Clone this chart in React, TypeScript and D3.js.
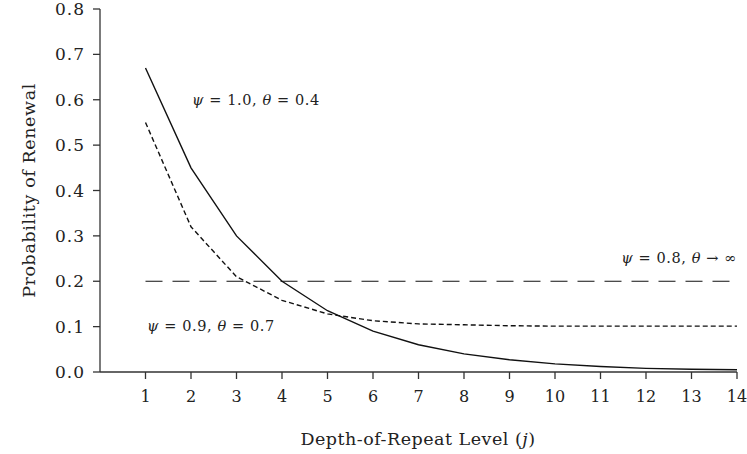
import React from "react";
import * as d3 from "d3";

const levels = [1, 2, 3, 4, 5, 6, 7, 8, 9, 10, 11, 12, 13, 14];
const seriesA = [0.67, 0.45, 0.30, 0.20, 0.135, 0.09, 0.06, 0.04, 0.027, 0.018, 0.012, 0.008, 0.006, 0.005];
const seriesB = [0.55, 0.32, 0.21, 0.158, 0.128, 0.113, 0.106, 0.104, 0.102, 0.101, 0.101, 0.101, 0.101, 0.101];
const constLevel = 0.2;
const yTicks = [0, 0.1, 0.2, 0.3, 0.4, 0.5, 0.6, 0.7, 0.8];

const W = 747, H = 454;
const FONT = "'DejaVu Serif', serif";

export default function App() {
  const x = d3.scaleLinear().domain([0, 14]).range([100, 737]);
  const y = d3.scaleLinear().domain([0, 0.8]).range([372, 9]);
  const line = d3.line<number>().x((_, i) => x(levels[i])).y((d) => y(d));
  const constLine = [x(1), x(14)];
  const axisColor = "#333";
  const stroke = "#111";

  const label = (psi: string, rest: React.ReactNode, props: any) => (
    <text {...props} fontFamily={FONT} fontSize={14.5} fill="#222" letterSpacing={0.6}>
      <tspan fontStyle="italic">ψ</tspan>
      <tspan>{` = ${psi},  `}</tspan>
      <tspan fontStyle="italic">θ</tspan>
      {rest}
    </text>
  );

  return (
    <svg width={W} height={H} style={{ position: "absolute", left: 0, top: 0, background: "#fff" }}>
      {/* axes */}
      <line x1={100} x2={100} y1={y(0.8)} y2={y(0)} stroke={axisColor} strokeWidth={1.3} />
      <line x1={100} x2={x(14)} y1={y(0)} y2={y(0)} stroke={axisColor} strokeWidth={1.3} />
      {yTicks.map((t) => (
        <g key={t}>
          <line x1={93} x2={100} y1={y(t)} y2={y(t)} stroke={axisColor} strokeWidth={1.3} />
          <text x={85} y={y(t)} dy="0.36em" textAnchor="end" fontFamily={FONT} fontSize={17} letterSpacing={1} fill="#222">
            {t.toFixed(1)}
          </text>
        </g>
      ))}
      {levels.map((t) => (
        <g key={t}>
          <line x1={x(t)} x2={x(t)} y1={y(0)} y2={y(0) + 7} stroke={axisColor} strokeWidth={1.3} />
          <text x={x(t)} y={402} textAnchor="middle" fontFamily={FONT} fontSize={16} fill="#222">
            {t}
          </text>
        </g>
      ))}
      <text x={418} y={445} textAnchor="middle" fontFamily={FONT} fontSize={17.5} fill="#222" letterSpacing={0.5}>
        Depth-of-Repeat Level (<tspan fontStyle="italic">j</tspan>)
      </text>
      <text transform={`translate(35,${(y(0) + y(0.8)) / 2}) rotate(-90)`} textAnchor="middle" fontFamily={FONT} fontSize={17.5} fill="#222" letterSpacing={0.6}>
        Probability of Renewal
      </text>

      {/* series */}
      <path d={line(seriesA) || ""} fill="none" stroke={stroke} strokeWidth={1.4} />
      <path d={line(seriesB) || ""} fill="none" stroke={stroke} strokeWidth={1.4} strokeDasharray="5,3" />
      <line x1={constLine[0]} x2={constLine[1]} y1={y(constLevel)} y2={y(constLevel)} stroke={stroke} strokeWidth={1.2} strokeDasharray="17,10" />

      {label("1.0", <tspan>{" = 0.4"}</tspan>, { x: 192, y: 105 })}
      {label("0.9", <tspan>{" = 0.7"}</tspan>, { x: 147, y: 331 })}
      <text x={737} y={263} textAnchor="end" fontFamily={FONT} fontSize={14.5} fill="#222" letterSpacing={0.6}>
        <tspan fontStyle="italic">ψ</tspan>
        <tspan>{" = 0.8,  "}</tspan>
        <tspan fontStyle="italic">θ</tspan>
        <tspan>{" → ∞"}</tspan>
      </text>
    </svg>
  );
}
